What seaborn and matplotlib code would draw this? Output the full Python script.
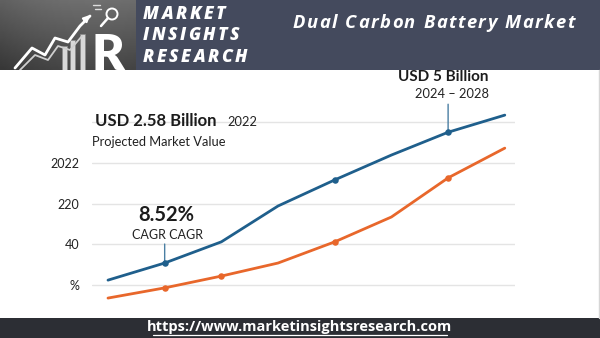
import numpy as np
import pandas as pd
import matplotlib
matplotlib.use("Agg")
import matplotlib.pyplot as plt
import seaborn as sns
from matplotlib.patches import Rectangle, Circle

# ---- data -------------------------------------------------------------
years = [2021, 2022, 2023, 2024, 2025, 2026, 2027, 2028]
market_value = [0.12, 0.54, 1.06, 1.94, 2.58, 3.19, 3.75, 4.17]
segment_value = [-0.32, -0.07, 0.22, 0.54, 1.06, 1.67, 2.63, 3.36]
series_names = ["Market value", "Segment value"]
ytick_pos = [0, 1, 2, 3, 4]
ytick_labels = ["%", "40", "220", "2022", ""]

title = "Dual Carbon Battery Market"
brand_lines = ["MARKET", "INSIGHTS", "RESEARCH"]
url = "https://www.marketinsightsresearch.com"

BLUE = "#1f5f8c"
ORANGE = "#e8672b"
HEADER = "#444a5d"
FOOTER = "#2c2e34"
INK = "#1c1c1c"

df = pd.DataFrame({
    "year": years * 2,
    "value": market_value + segment_value,
    "series": [series_names[0]] * len(years) + [series_names[1]] * len(years),
})

sns.set_theme(style="white")
plt.rcParams["font.family"] = ["Lato", "DejaVu Sans"]

W, H = 600, 338
fig = plt.figure(figsize=(W / 100, H / 100), dpi=100)
fig.patch.set_facecolor("white")
renderer = fig.canvas.get_renderer()


def fx(px):
    return px / W


def fy(py):
    return 1 - py / H


def tracked_text(x_px, y_px, s, gap_px, space_px, **kw):
    """Draw a string one glyph at a time with extra letter spacing."""
    x = x_px
    for ch in s:
        if ch == " ":
            x += space_px
            continue
        t = fig.text(fx(x), fy(y_px), ch, ha="left", va="center", **kw)
        w = t.get_window_extent(renderer).width
        x += w + gap_px
    return x


# ---- chart ------------------------------------------------------------
ax = fig.add_axes([fx(92), fy(305), fx(515) - fx(92), fy(98) - fy(305)])
ax.set_facecolor("none")

sns.lineplot(data=df, x="year", y="value", hue="series",
             palette=[BLUE, ORANGE], linewidth=2.0, legend=False, ax=ax,
             solid_capstyle="round", zorder=3)

# dots on selected points of each line
blue_idx = [1, 4, 6]
orange_idx = [1, 2, 4, 6]
sns.scatterplot(x=[years[i] for i in blue_idx], y=[market_value[i] for i in blue_idx],
                color=BLUE, s=22, linewidth=0, ax=ax, zorder=4)
sns.scatterplot(x=[years[i] for i in orange_idx], y=[segment_value[i] for i in orange_idx],
                color=ORANGE, s=22, linewidth=0, ax=ax, zorder=4)

ax.set_xlim(years[0] - 0.282, years[0] + 7.18)
ax.set_ylim(-0.49, 4.59)
ax.set_yticks(ytick_pos)
ax.set_yticklabels(ytick_labels)
ax.set_xticks([])
ax.set_xlabel("")
ax.set_ylabel("")
ax.grid(axis="y", color="#e4e4e4", linewidth=1.0, zorder=0)
ax.tick_params(axis="y", length=0, pad=9, labelsize=9, labelcolor="#222222")
for s in ax.spines.values():
    s.set_visible(False)

# callout on the 2022 point
ax.annotate("", xy=(years[1], market_value[1]), xytext=(0, 19),
            textcoords="offset pixels",
            arrowprops=dict(arrowstyle="-", color="#4a7fa3", lw=1.0,
                            shrinkA=0, shrinkB=0))
ax.annotate("8.52%", xy=(years[1], market_value[1]), xytext=(2, 48),
            textcoords="offset pixels", ha="center", va="center",
            fontsize=14.5, fontweight="bold", color=INK)
ax.annotate("CAGR CAGR", xy=(years[1], market_value[1]), xytext=(3, 28),
            textcoords="offset pixels", ha="center", va="center",
            fontsize=9, color="#222222")

# callout on the 2027 point
ax.annotate("", xy=(years[6], market_value[6]), xytext=(0, 28),
            textcoords="offset pixels",
            arrowprops=dict(arrowstyle="-", color="#4a7fa3", lw=1.0,
                            shrinkA=0, shrinkB=0))
ax.annotate("USD 5 Billion", xy=(years[6], market_value[6]), xytext=(-5, 55),
            textcoords="offset pixels", ha="center", va="center",
            fontsize=11, fontweight="bold", color=INK)
ax.annotate("2024 \u2013 2028", xy=(years[6], market_value[6]), xytext=(41, 38),
            textcoords="offset pixels", ha="right", va="center",
            fontsize=9.3, color="#222222")

# headline figures
fig.text(fx(95), fy(121), "USD 2.58 Billion", ha="left", va="center",
         fontsize=12, fontweight="bold", color=INK)
fig.text(fx(227), fy(122), "2022", ha="left", va="center",
         fontsize=9.3, color="#222222")
fig.text(fx(92), fy(142), "Projected Market Value", ha="left", va="center",
         fontsize=9.3, color="#222222")

# ---- header -----------------------------------------------------------
fig.patches.append(Rectangle((0, fy(70)), 1, 1 - fy(70), transform=fig.transFigure,
                             facecolor=HEADER, edgecolor="none", zorder=-2))

# logo tile: dark gradient with a rising arrow, bars and a large R
logo = fig.add_axes([0, fy(70), fx(136), 1 - fy(70)])
logo.set_zorder(1)
logo.set_xlim(0, 136)
logo.set_ylim(70, 0)
logo.axis("off")
gx = np.linspace(0, 1, 60)
gy = np.linspace(0, 1, 40)
grad = 0.40 - 0.16 * gy[:, None] + 0.06 * gx[None, :] - 0.12 * (gx[None, :] - 0.45) ** 2
logo.imshow(grad, cmap="gray", vmin=0, vmax=1, extent=(0, 136, 70, 0), aspect="auto")
logo.plot([15, 32, 45, 55, 68, 80, 90], [68, 48, 55, 38, 42, 26, 16],
          color="white", lw=2.0, solid_capstyle="round")
logo.plot([20, 35, 48, 58, 70, 82], [70, 55, 60, 46, 50, 36],
          color="#cfcfcf", lw=1.3)
logo.annotate("", xy=(92, 13), xytext=(82, 23),
              arrowprops=dict(arrowstyle="-|>", color="white", lw=1.6,
                              mutation_scale=9))
for bx, top in [(62, 46), (70, 40), (80, 34)]:
    logo.add_patch(Rectangle((bx, top), 5, 70 - top, facecolor="#d8d8d8",
                             edgecolor="#888888", lw=0.5))
logo.add_patch(Circle((112, 14), 5.5, facecolor="none", edgecolor="white", lw=1.4))
logo.plot([108, 101], [18, 26], color="white", lw=1.8)
logo.plot([93, 100], [5, 5], color="#dddddd", lw=1.0)
logo.plot([95, 101], [9, 9], color="#dddddd", lw=1.0)
logo.text(108, 70, "R", ha="center", va="baseline", fontsize=36, fontweight="heavy",
          color="white")

for i, line in enumerate(brand_lines):
    tracked_text(143, 14.5 + 21.5 * i, line, gap_px=2.5, space_px=6,
                 fontsize=12.5, fontweight="heavy", fontstyle="italic",
                 color="white", family=["Open Sans", "DejaVu Sans"])

tracked_text(293, 23, title, gap_px=1.45, space_px=6.5, fontsize=13.2,
             fontweight="bold", fontstyle="italic", color="white",
             family=["Open Sans", "DejaVu Sans"])

# thin frame line on the right edge
fig.lines.append(plt.Line2D([fx(599), fx(599)], [fy(318), fy(70)],
                            transform=fig.transFigure, color="#d6d6d6", lw=1.0))

# ---- footer -----------------------------------------------------------
fig.patches.append(Rectangle((0, 0), 1, fy(318), transform=fig.transFigure,
                             facecolor=FOOTER, edgecolor="none", zorder=-2))
fig.text(0.5, fy(327), url, ha="center", va="center", fontsize=10.5,
         fontweight="bold", color="white", family=["Open Sans", "DejaVu Sans"])
fig.lines.append(plt.Line2D([fx(153), fx(447)], [fy(335), fy(335)],
                            transform=fig.transFigure, color="white", lw=0.9))

fig.savefig("out.png", dpi=100, facecolor=fig.get_facecolor())
